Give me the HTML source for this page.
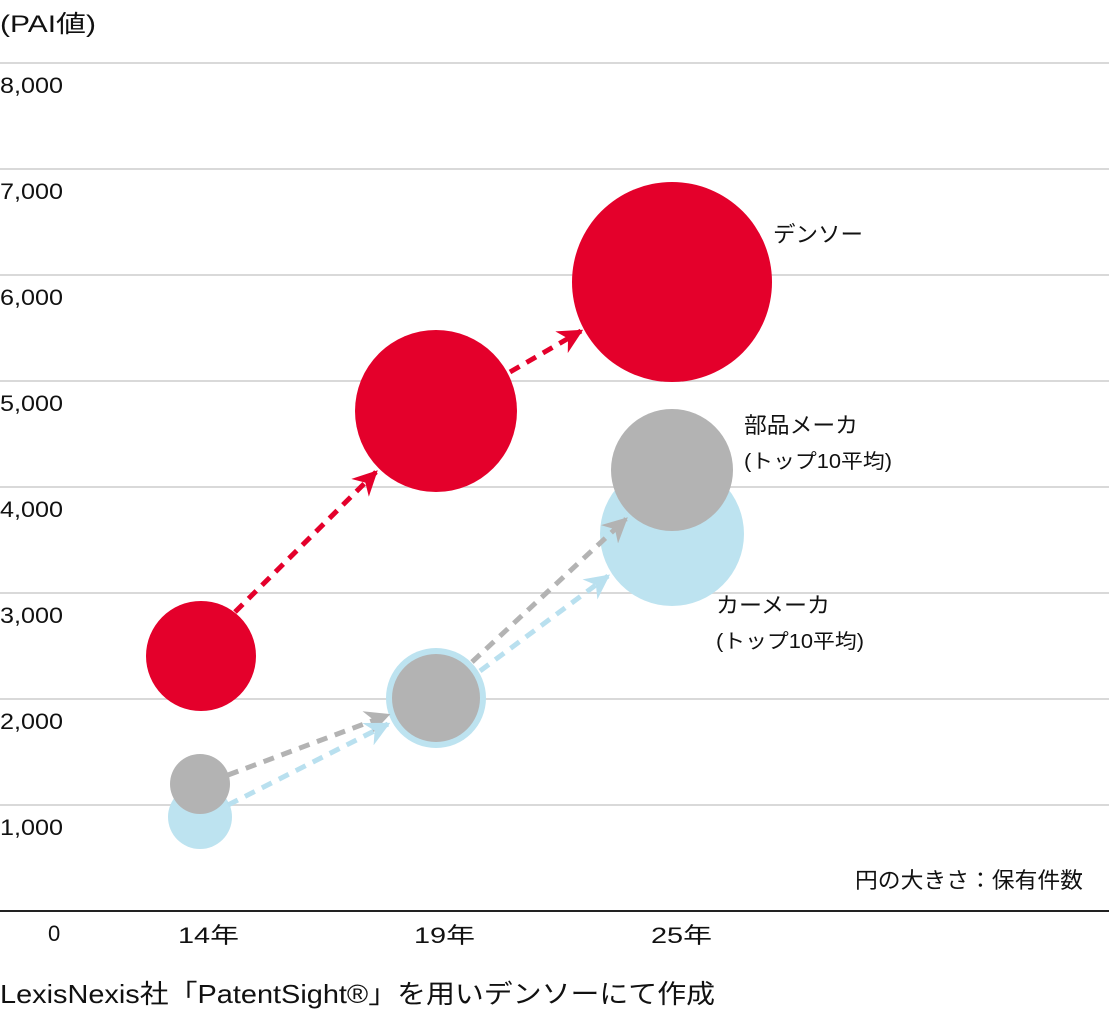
<!DOCTYPE html>
<html><head><meta charset="utf-8"><style>
body{margin:0;background:#fff;}
svg text{font-family:"Liberation Sans","Noto Sans CJK JP",sans-serif;fill:#111;}
</style></head><body>
<svg width="1109" height="1020" viewBox="0 0 1109 1020" xmlns="http://www.w3.org/2000/svg">
<defs>
<marker id="mr" viewBox="0 0 10 10" refX="9" refY="5" markerWidth="5" markerHeight="5" orient="auto" markerUnits="strokeWidth"><path d="M0,0 L10,5 L0,10 L3,5 Z" fill="#e4002b"/></marker>
<marker id="mg" viewBox="0 0 10 10" refX="9" refY="5" markerWidth="5" markerHeight="5" orient="auto" markerUnits="strokeWidth"><path d="M0,0 L10,5 L0,10 L3,5 Z" fill="#b3b3b3"/></marker>
<marker id="mb" viewBox="0 0 10 10" refX="9" refY="5" markerWidth="5" markerHeight="5" orient="auto" markerUnits="strokeWidth"><path d="M0,0 L10,5 L0,10 L3,5 Z" fill="#b9e0ef"/></marker>
</defs>
<g lengthAdjust="spacingAndGlyphs">
<text x="0" y="32" font-size="24" textLength="96" lengthAdjust="spacingAndGlyphs">(PAI値)</text>
</g>
<g stroke="#d9d9d9" stroke-width="2">
<line x1="0" y1="63" x2="1109" y2="63"/><line x1="0" y1="169" x2="1109" y2="169"/>
<line x1="0" y1="275" x2="1109" y2="275"/><line x1="0" y1="381" x2="1109" y2="381"/>
<line x1="0" y1="487" x2="1109" y2="487"/><line x1="0" y1="593" x2="1109" y2="593"/>
<line x1="0" y1="699" x2="1109" y2="699"/><line x1="0" y1="805" x2="1109" y2="805"/>
</g>
<line x1="0" y1="911" x2="1109" y2="911" stroke="#222" stroke-width="2"/>
<g font-size="22">
<text x="0" y="93" textLength="63" lengthAdjust="spacingAndGlyphs">8,000</text>
<text x="0" y="199" textLength="63" lengthAdjust="spacingAndGlyphs">7,000</text>
<text x="0" y="305" textLength="63" lengthAdjust="spacingAndGlyphs">6,000</text>
<text x="0" y="411" textLength="63" lengthAdjust="spacingAndGlyphs">5,000</text>
<text x="0" y="517" textLength="63" lengthAdjust="spacingAndGlyphs">4,000</text>
<text x="0" y="623" textLength="63" lengthAdjust="spacingAndGlyphs">3,000</text>
<text x="0" y="729" textLength="63" lengthAdjust="spacingAndGlyphs">2,000</text>
<text x="0" y="835" textLength="63" lengthAdjust="spacingAndGlyphs">1,000</text>
<text x="48" y="941">0</text>
<text x="178" y="943" textLength="61" lengthAdjust="spacingAndGlyphs">14年</text>
<text x="414" y="943" textLength="61" lengthAdjust="spacingAndGlyphs">19年</text>
<text x="651" y="943" textLength="61" lengthAdjust="spacingAndGlyphs">25年</text>
</g>
<circle cx="201" cy="656" r="55" fill="#e4002b"/>
<circle cx="436" cy="411" r="81" fill="#e4002b"/>
<circle cx="672" cy="282" r="100" fill="#e4002b"/>
<circle cx="200" cy="817" r="32" fill="#bde3f0"/>
<circle cx="200" cy="784" r="30" fill="#b3b3b3"/>
<circle cx="436" cy="698" r="50" fill="#bde3f0"/>
<circle cx="436" cy="698" r="44" fill="#b3b3b3"/>
<circle cx="672" cy="534" r="72" fill="#bde3f0"/>
<circle cx="672" cy="470" r="61" fill="#b3b3b3"/>
<g stroke-width="5" stroke-dasharray="11 8" fill="none">
<line x1="235" y1="612" x2="376" y2="472" stroke="#e4002b" marker-end="url(#mr)"/>
<line x1="510" y1="372" x2="581" y2="331" stroke="#e4002b" marker-end="url(#mr)"/>
<line x1="228" y1="775" x2="388" y2="715" stroke="#b3b3b3" marker-end="url(#mg)"/>
<line x1="228" y1="805" x2="388" y2="724" stroke="#b9e0ef" marker-end="url(#mb)"/>
<line x1="472" y1="662" x2="626" y2="519" stroke="#b3b3b3" marker-end="url(#mg)"/>
<line x1="480" y1="671" x2="608" y2="576" stroke="#b9e0ef" marker-end="url(#mb)"/>
</g>
<text x="773" y="242" font-size="22" textLength="90" lengthAdjust="spacingAndGlyphs">デンソー</text>
<text x="744" y="433" font-size="22" textLength="114" lengthAdjust="spacingAndGlyphs">部品メーカ</text>
<text x="744" y="468" font-size="20" textLength="148" lengthAdjust="spacingAndGlyphs">(トップ10平均)</text>
<text x="716" y="613" font-size="22" textLength="114" lengthAdjust="spacingAndGlyphs">カーメーカ</text>
<text x="716" y="648" font-size="20" textLength="148" lengthAdjust="spacingAndGlyphs">(トップ10平均)</text>
<text x="855" y="888" font-size="22" textLength="228" lengthAdjust="spacingAndGlyphs">円の大きさ：保有件数</text>
<text x="0" y="1003" font-size="26" textLength="715" lengthAdjust="spacingAndGlyphs">LexisNexis社「PatentSight®」を用いデンソーにて作成</text>
</svg>
</body></html>
